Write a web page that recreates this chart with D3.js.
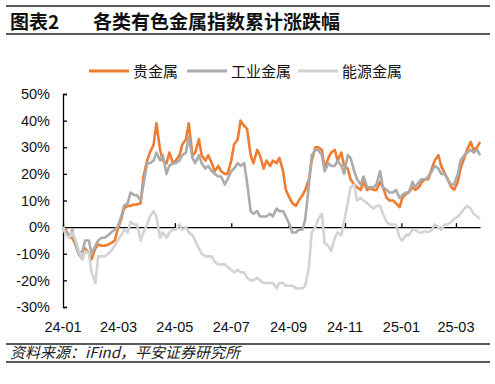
<!DOCTYPE html>
<html>
<head>
<meta charset="utf-8">
<script src="https://cdn.jsdelivr.net/npm/d3@7"></script>
<style>
	body { margin: 0; background: #fff; }
	svg { display: block; }
	text { font-family: "Liberation Sans", Arial, "Noto Sans CJK SC", sans-serif; }
	.cjk { font-family: "Noto Sans CJK SC", sans-serif; }
</style>
</head>
<body>
<div id="chart"></div>
<script>
// sampling dates (Mon / Thu)
const dates = ("2024-01-01 2024-01-04 2024-01-08 2024-01-11 2024-01-15 2024-01-18 2024-01-22 2024-01-25 2024-01-29 " +
	"2024-02-01 2024-02-05 2024-02-08 2024-02-12 2024-02-15 2024-02-19 2024-02-22 2024-02-26 2024-02-29 " +
	"2024-03-04 2024-03-07 2024-03-11 2024-03-14 2024-03-18 2024-03-21 2024-03-25 2024-03-28 " +
	"2024-04-01 2024-04-04 2024-04-08 2024-04-11 2024-04-15 2024-04-18 2024-04-22 2024-04-25 2024-04-29 " +
	"2024-05-02 2024-05-06 2024-05-09 2024-05-13 2024-05-16 2024-05-20 2024-05-23 2024-05-27 2024-05-30 " +
	"2024-06-03 2024-06-06 2024-06-10 2024-06-13 2024-06-17 2024-06-20 2024-06-24 2024-06-27 " +
	"2024-07-01 2024-07-04 2024-07-08 2024-07-11 2024-07-15 2024-07-18 2024-07-22 2024-07-25 2024-07-29 " +
	"2024-08-01 2024-08-05 2024-08-08 2024-08-12 2024-08-15 2024-08-19 2024-08-22 2024-08-26 2024-08-29 " +
	"2024-09-02 2024-09-05 2024-09-09 2024-09-12 2024-09-16 2024-09-19 2024-09-23 2024-09-26 2024-09-30 " +
	"2024-10-03 2024-10-07 2024-10-10 2024-10-14 2024-10-17 2024-10-21 2024-10-24 2024-10-28 2024-10-31 " +
	"2024-11-04 2024-11-07 2024-11-11 2024-11-14 2024-11-18 2024-11-21 2024-11-25 2024-11-28 " +
	"2024-12-02 2024-12-05 2024-12-09 2024-12-12 2024-12-16 2024-12-19 2024-12-23 2024-12-26 2024-12-30 " +
	"2025-01-02 2025-01-06 2025-01-09 2025-01-13 2025-01-16 2025-01-20 2025-01-23 2025-01-27 2025-01-30 " +
	"2025-02-03 2025-02-06 2025-02-10 2025-02-13 2025-02-17 2025-02-20 2025-02-24 2025-02-27 " +
	"2025-03-03 2025-03-06 2025-03-10 2025-03-13 2025-03-17 2025-03-20 2025-03-24 2025-03-27").split(" ");

// cumulative change, %
const precious = [
	0, -1, -4, -4, -7, -10, -12, -8, -10, -12,
	-8, -6.5, -7, -7, -6.5, -6, -5, -1, 3, 7,
	8, 8, 8.5, 8.5, 9, 19, 25, 28, 31, 39,
	29, 25, 24, 28, 24, 25, 27, 31, 33, 39,
	27, 28, 33, 27, 25, 27, 24, 21, 23, 21,
	20, 20, 25, 31, 33, 40, 38, 37, 27, 24,
	29, 27, 22, 25, 23, 25, 24, 26, 21, 14,
	11, 9, 8, 10, 12, 14, 18, 25, 30, 30,
	29, 22, 26, 28, 29, 25, 28, 23, 22, 18,
	16, 15, 14, 17, 14, 14.5, 14, 14, 17, 15,
	11, 10, 10, 9, 7.5, 11, 12.5, 13, 15, 14,
	15, 17, 18, 18, 22, 25, 27, 23, 20, 18,
	15, 14, 17, 22, 26, 29, 32, 29, 30, 32
];
const industrial = [
	0, -2, -4, -1, -7, -10, -9, -5, -5, -10,
	-7, -5, -4, -4, -3, -2, -1, 0, 4, 8,
	9, 13, 12, 12, 10, 16, 24, 24, 25, 28,
	25, 27, 20, 23, 24, 24, 25, 27, 28, 34,
	26, 24, 27, 24, 22, 23, 21, 20, 19, 19,
	16, 18, 21, 22, 24, 23, 24, 17, 6, 5,
	6, 4, 4, 4, 5, 4, 7, 6, 6, 4,
	1, -2, -2, -1, -1, 3, 16, 27, 29, 29,
	27, 21, 24, 23, 23, 25, 23, 20, 27, 26,
	21, 18, 16, 19, 15, 15, 15, 16, 21, 15,
	14, 13, 13, 14, 11, 12, 13, 13, 17, 15,
	17, 18, 18, 19, 21, 23, 22, 20, 20, 18,
	16, 16, 20, 25, 27, 28, 29, 28, 29, 27
];
const energy = [
	0, -3, -4, -2, -5, -9, -12, -9, -10, -17,
	-21, -11, -11, -11, -10, -9, -7, -5, -3, -1,
	-2, 2, 1, 1, -5, -2, 1, 4, 6, 4,
	-4, -2, -4, -2, -1, -1, 1, -1, 0, -2,
	-3, -5, -8, -10, -11, -11, -11, -13, -14, -14,
	-14, -15, -16, -17, -16, -17, -17, -19, -20, -20,
	-19, -20, -21, -21, -21, -21, -23, -21, -21, -22,
	-22, -22, -23, -23, -23, -22, -15, -2, 0, 3,
	5, -6, -7, -9, -4, -2, -3, 2, 9, 15,
	16, 10, 11, 10, 9, 8, 7, 8, 8, 5,
	2, 1, 1, 1, -4, -5, -3, -3, -1, -1,
	-2, -2, -1.5, -2, -1, 1, 0, -1, 1, 1,
	2, 3, 4, 5, 7, 8, 7, 5, 4, 3
];

const seriesNames = ["贵金属", "工业金属", "能源金属"];
const seriesColors = ["#EE7D31", "#ABABAB", "#D3D3D3"];
const yTicks = [50, 40, 30, 20, 10, 0, -10, -20, -30];
const xTickLabels = ["24-01", "24-03", "24-05", "24-07", "24-09", "24-11", "25-01", "25-03"];

const W = 495, H = 384;
const parse = d3.timeParse("%Y-%m-%d");
const fmtTick = d3.timeFormat("%y-%m");

const svg = d3.select("#chart").append("svg").attr("width", W).attr("height", H);

// header
svg.append("line").attr("x1", 6).attr("x2", 490).attr("y1", 6).attr("y2", 6)
	.attr("stroke", "#222").attr("stroke-width", 1.6);
svg.append("text").attr("class", "cjk").attr("x", 10).attr("y", 29)
	.style("font-size", "19px").style("font-weight", "bold").attr("fill", "#111").text("图表2");
svg.append("text").attr("class", "cjk").attr("x", 93).attr("y", 29)
	.style("font-size", "19px").style("font-weight", "bold").attr("fill", "#111")
	.text("各类有色金属指数累计涨跌幅");
svg.append("line").attr("x1", 6).attr("x2", 490).attr("y1", 34).attr("y2", 34)
	.attr("stroke", "#222").attr("stroke-width", 1.6);

// scales
const x = d3.scaleTime()
	.domain([parse("2024-01-01"), parse("2025-03-27")])
	.range([63, 480]);
const y = d3.scaleLinear().domain([-30, 50]).range([307, 94]);

// y axis, ticks inside
svg.append("g")
	.attr("transform", "translate(63,0)")
	.call(d3.axisLeft(y).tickValues(yTicks).tickSize(-4).tickPadding(13)
		.tickFormat(d => d + "%"))
	.call(g => g.select(".domain").attr("stroke", "#000").attr("stroke-width", 1.3))
	.call(g => g.selectAll(".tick line").attr("stroke", "#000").attr("stroke-width", 1.3))
	.call(g => g.selectAll("text").attr("fill", "#111")
		.style("font-size", "14.5px").style("font-family", "'Liberation Sans', Arial, sans-serif"));

// x axis at zero, ticks upward
const xTickDates = xTickLabels.map(s => parse("20" + s + "-01"));
svg.append("g")
	.attr("transform", `translate(0,${y(0)})`)
	.call(d3.axisBottom(x).tickValues(xTickDates).tickSize(-4).tickSizeOuter(0).tickFormat(""))
	.call(g => g.select(".domain").attr("stroke", "#000").attr("stroke-width", 1.3))
	.call(g => g.selectAll(".tick line").attr("stroke", "#000").attr("stroke-width", 1.3));

// x labels at bottom
svg.selectAll(".xlab")
	.data(xTickDates)
	.join("text")
	.attr("class", "xlab")
	.attr("x", d => x(d))
	.attr("y", 332)
	.attr("text-anchor", "middle")
	.attr("fill", "#111")
	.style("font-size", "14.5px")
	.text(d => fmtTick(d));

// lines
const allSeries = [precious, industrial, energy];
const line = d3.line()
	.x((d, i) => x(parse(dates[i])))
	.y(d => y(d));

allSeries.forEach((vals, i) => {
	svg.append("path")
		.datum(vals)
		.attr("d", line)
		.attr("fill", "none")
		.attr("stroke", seriesColors[i])
		.attr("stroke-width", 2.6)
		.attr("stroke-linejoin", "round");
});

// legend
const legendX = [89, 187, 298];
seriesNames.forEach((name, i) => {
	svg.append("line")
		.attr("x1", legendX[i]).attr("x2", legendX[i] + 40)
		.attr("y1", 71).attr("y2", 71)
		.attr("stroke", seriesColors[i]).attr("stroke-width", 3);
	svg.append("text").attr("class", "cjk")
		.attr("x", legendX[i] + 44).attr("y", 76.5)
		.attr("fill", "#111")
		.style("font-size", "15px")
		.text(name);
});

// footer
svg.append("line").attr("x1", 6).attr("x2", 490).attr("y1", 344).attr("y2", 344)
	.attr("stroke", "#222").attr("stroke-width", 1.4);
svg.append("text").attr("class", "cjk").attr("x", 10).attr("y", 358)
	.style("font-size", "15px").style("font-style", "italic").attr("fill", "#222")
	.text("资料来源：iFind，平安证券研究所");
svg.append("line").attr("x1", 6).attr("x2", 490).attr("y1", 362).attr("y2", 362)
	.attr("stroke", "#222").attr("stroke-width", 1.4);
</script>
</body>
</html>
